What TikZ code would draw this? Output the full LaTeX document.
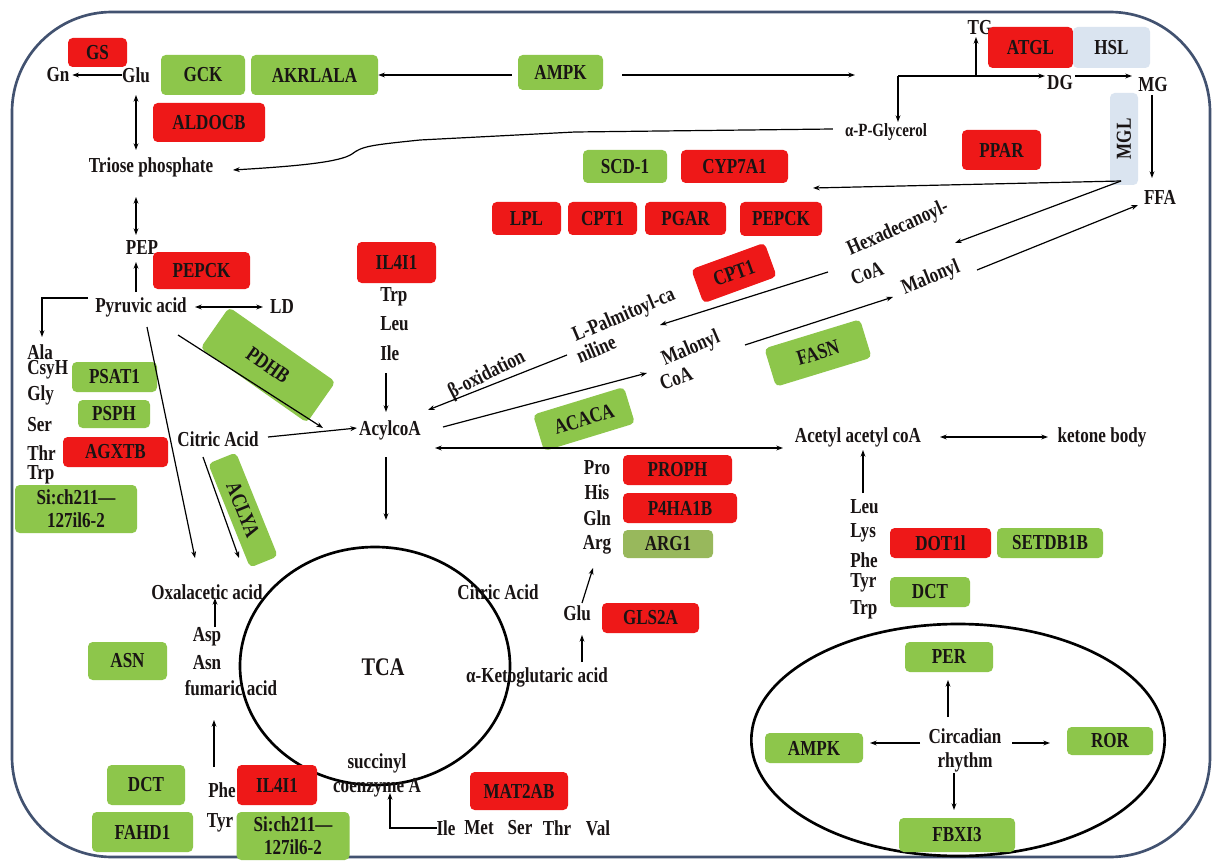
\documentclass[tikz,border=0pt]{standalone}
\usepackage{fontspec}
\setmainfont{Liberation Serif}[FakeStretch=0.8]
\usetikzlibrary{arrows.meta}
\definecolor{rd}{RGB}{238,24,24}
\definecolor{gr}{RGB}{141,198,75}
\definecolor{ol}{RGB}{152,184,92}
\definecolor{lb}{RGB}{218,228,240}
\definecolor{fr}{RGB}{66,82,112}
\definecolor{txt}{RGB}{25,20,20}
\begin{document}
\begin{tikzpicture}[x=0.75pt,y=-0.75pt,
  every node/.style={font=\fontsize{16}{18}\selectfont\bfseries, inner sep=0pt, text=txt, align=center},
  box/.style={rounded corners=3.5pt},
  rbox/.style={box, fill=rd},
  gbox/.style={box, fill=gr},
  obox/.style={box, fill=ol},
  lbox/.style={box, fill=lb},
  sz/.style 2 args={minimum width=#1*0.75pt, minimum height=#2*0.75pt},
  conn/.style={line width=0.9pt, -{Stealth[length=5pt,width=3.6pt]}},
  dconn/.style={line width=0.9pt, {Stealth[length=5pt,width=3.6pt]}-{Stealth[length=5pt,width=3.6pt]}},
  plain/.style={line width=0.9pt}
]
\fill[white] (0,0) rectangle (1214,863);
\useasboundingbox (0,0) rectangle (1214,863);
\draw[fr, line width=2pt, rounded corners=75pt] (12,12) rectangle (1210,857);

% big ellipses
\draw[line width=2pt] (375,666) ellipse [x radius=101.25pt, y radius=89.25pt];
\draw[line width=2pt] (958,740) ellipse [x radius=155pt, y radius=87pt];

% ---------- top left ----------
\node[rbox, sz={59}{29}] (gs) at (97.5,52.5) {GS};
\node (gn) at (58,75) {Gn};
\node (glu) at (136,75) {Glu};
\node[gbox, sz={84}{40}] (gck) at (203,75) {GCK};
\node[gbox, sz={127}{40}] (akr) at (314.5,75) {AKRLALA};
\node[gbox, sz={85}{35}] (ampk) at (560.5,72.5) {AMPK};
\node[rbox, sz={112}{39}] (aldocb) at (209,122.5) {ALDOCB};
\node (triose) at (151,167) {Triose phosphate};
\node (pep) at (142,248) {PEP};
\node[rbox, sz={97}{37}] (pepck1) at (201.5,270.5) {PEPCK};
\node (pyr) at (141,307) {Pyruvic acid};
\node (ld) at (282,307) {LD};

% amino acids left
\node[anchor=west] (ala) at (27,352) {Ala};
\node[anchor=west] (csyh) at (27,370) {CsyH};
\node[anchor=west] (gly) at (27,395) {Gly};
\node[anchor=west] (ser) at (27,425) {Ser};
\node[anchor=west] (thr) at (27,453) {Thr};
\node[anchor=west] (trpl) at (27,475) {Trp};
\node[gbox, sz={85}{30}] (psat) at (114.5,377) {PSAT1};
\node[gbox, sz={72}{28}] (psph) at (114,414) {PSPH};
\node[rbox, sz={105}{30}] (agxtb) at (115.5,452) {AGXTB};
\node[gbox, sz={122}{48}, font=\fontsize{16}{17}\selectfont\bfseries] (si1) at (76,509) {Si:ch211—\\127il6-2};

\node[gbox, sz={130}{50}, rotate=-35] (pdhb) at (268,365) {PDHB};
\node (cit1) at (218,439) {Citric Acid};
\node[gbox, sz={112}{30}, rotate=-68] (aclya) at (243,510) {ACLYA};

% IL4I1 top
\node[rbox, sz={79}{41}] (il1) at (396.5,262.5) {IL4I1};
\node[anchor=west] (trp1) at (380,297) {Trp};
\node[anchor=west] (leu1) at (380,324) {Leu};
\node[anchor=west] (ile1) at (380,353) {Ile};
\node (acyl) at (390,430) {AcylcoA};

% middle top boxes
\node[gbox, sz={84}{33}] (scd) at (625,166.5) {SCD-1};
\node[rbox, sz={107}{33}] (cyp) at (734.5,166.5) {CYP7A1};
\node[rbox, sz={69}{33}] (lpl) at (526.5,218.5) {LPL};
\node[rbox, sz={69}{33}] (cpt1a) at (602.5,218.5) {CPT1};
\node[rbox, sz={81}{33}] (pgar) at (685.5,218.5) {PGAR};
\node[rbox, sz={82}{34}] (pepck2) at (781,219) {PEPCK};
\node[rbox, sz={78}{36}, rotate=20] (cpt1b) at (734,273) {CPT1};

% rotated labels
\node[rotate=27] (boxid) at (487,375) {β-oxidation};
\node[rotate=23] (palm) at (624,316) {L-Palmitoyl-ca};
\node[rotate=23] (palm2) at (596,349) {niline};
\node[rotate=23] (malc) at (691,349) {Malonyl};
\node[rotate=20] (malc2) at (676,378) {CoA};
\node[gbox, sz={95}{38}, rotate=17] (acaca) at (584,419) {ACACA};
\node[gbox, sz={100}{40}, rotate=17] (fasn) at (818,353) {FASN};
\node[rotate=24] (hexa) at (898,229) {Hexadecanoyl-};
\node[rotate=20] (hexa2) at (867,273) {CoA};
\node[rotate=22] (malr) at (931,278) {Malonyl};

% top right
\node (tg) at (980,28) {TG};
\node[rbox, sz={85}{41}] (atgl) at (1030.5,47.5) {ATGL};
\node[lbox, sz={77}{41}] (hsl) at (1111.5,47.5) {HSL};
\node (dg) at (1060,83) {DG};
\node (mg) at (1153,85) {MG};
\node[lbox, sz={28}{92}] (mglbox) at (1124,139) {};
\node[rotate=90] (mgl) at (1124,139) {MGL};
\node (ffa) at (1160,197) {FFA};
\node[font=\fontsize{14}{16}\selectfont\bfseries] (glyc) at (886,132) {α-P-Glycerol};
\node[rbox, sz={79}{40}] (ppar) at (1001.5,150) {PPAR};

% acetyl row
\node (acet) at (858,437) {Acetyl acetyl coA};
\node (ket) at (1102,437) {ketone body};
\node[anchor=west] (leu2) at (850,507) {Leu};
\node[anchor=west] (lys2) at (850,533) {Lys};
\node[anchor=west] (phe2) at (850,560) {Phe};
\node[anchor=west] (tyr2) at (850,583) {Tyr};
\node[anchor=west] (trp2) at (850,610) {Trp};
\node[rbox, sz={101}{30}] (dot) at (940.5,543) {DOT1l};
\node[gbox, sz={106}{30}] (setdb) at (1050,543) {SETDB1B};
\node[gbox, sz={80}{30}] (dct2) at (930,592) {DCT};

% Pro His ...
\node (pro) at (597,468) {Pro};
\node (his) at (597,492) {His};
\node (gln) at (597,518) {Gln};
\node (arg) at (597,545) {Arg};
\node[rbox, sz={109}{30}] (proph) at (677.5,470) {PROPH};
\node[rbox, sz={114}{30}] (p4ha) at (680,508) {P4HA1B};
\node[obox, sz={90}{28}] (arg1) at (668,544) {ARG1};

% TCA area
\node (cit2) at (498,592) {Citric Acid};
\node (glu2) at (577,613) {Glu};
\node[rbox, sz={97}{30}] (gls) at (650.5,618) {GLS2A};
\node (akg) at (537,677) {α-Ketoglutaric acid};
\node[font=\fontsize{19}{20}\selectfont\bfseries] (tca) at (383,667) {TCA};
\node (succ) at (377,775) {succinyl\\coenzyme A};
\node[rbox, sz={98}{38}] (mat) at (519,791) {MAT2AB};
\node (aile) at (446,828) {Ile};
\node (amet) at (479,828) {Met};
\node (aser) at (520,828) {Ser};
\node (athr) at (557,828) {Thr};
\node (aval) at (598,828) {Val};

% bottom left
\node (oxa) at (207,592) {Oxalacetic acid};
\node (asp) at (207,637) {Asp};
\node (asn) at (207,663) {Asn};
\node (fum) at (231,688) {fumaric acid};
\node[gbox, sz={79}{38}] (asnb) at (127.5,661) {ASN};
\node[gbox, sz={78}{40}] (dct1) at (146,785) {DCT};
\node[gbox, sz={101}{40}] (fahd) at (142.5,832) {FAHD1};
\node[rbox, sz={80}{40}] (il2) at (277,785) {IL4I1};
\node[gbox, sz={113}{48}, font=\fontsize{16}{17}\selectfont\bfseries] (si2) at (293,836) {Si:ch211—\\127il6-2};
\node (phe1) at (222,790) {Phe};
\node (tyr1) at (220,823) {Tyr};

% circadian
\node (circ) at (965,750) {Circadian\\rhythm};
\node[gbox, sz={88}{30}] (per) at (949,657) {PER};
\node[gbox, sz={98}{30}] (ampk2) at (814,748) {AMPK};
\node[gbox, sz={86}{28}] (ror) at (1110,741) {ROR};
\node[gbox, sz={116}{34}] (fbx) at (957,835) {FBXI3};

% ---------- coordinates for free ends ----------
\coordinate (ampkR) at (855,75);
\coordinate (j1) at (898,76);
\coordinate (j2) at (976,76);
\coordinate (mglO) at (1121,181);
\coordinate (mglL) at (813,188);
\coordinate (hexIn) at (955,243);
\coordinate (malOut) at (977,270);
\coordinate (ffaIn) at (1138,205);
\coordinate (hexOut) at (828,272);
\coordinate (palIn) at (660,325);
\coordinate (palOut) at (567,355);
\coordinate (acylIn) at (428,410);
\coordinate (acylOut) at (443,427);
\coordinate (malcIn) at (647,373);
\coordinate (malcOut) at (745,345);
\coordinate (malrIn) at (893,297);
\coordinate (pk) at (42,298);
\coordinate (sk) at (390,828);

% ---------- connectors ----------
\draw[conn, shorten >=2pt] (glu.west) -- (gn.east);
\draw[dconn] (136,95) -- (136,150);
\draw[dconn] (136,197) -- (136,235);
\draw[conn] (136,292) -- (136,262);
\draw[conn] (ampk.west |- akr.east) ++(-6,0) -- (akr.east);
\draw[conn] (622,75) -- (ampkR);
\draw[conn] (j1) -- (1045,76);
\draw[conn] (j2) -- (976,37);
\draw[conn] (j1) -- (898,122);
\draw[conn] (1075,76) -- (1132,76);
\draw[conn] (1152,95) -- (1152,178);
\draw[conn] (mglO) -- (mglL);
\draw[conn] (mglO) -- (hexIn);
\draw[conn] (malOut) -- (ffaIn);
\draw[conn] (hexOut) -- (palIn);
\draw[conn] (palOut) -- (acylIn);
\draw[conn] (acylOut) -- (malcIn);
\draw[conn] (malcOut) -- (malrIn);
\draw[dconn] (435,448) -- (783,448);
\draw[dconn] (940,437) -- (1048,437);
\draw[conn] (863,493) -- (863,450);
\draw[conn] (glyc.west) ++(-12,-3) -- (575,132) -- (420,140) .. controls (372,145) and (362,146) .. (352,154) .. controls (340,162) and (300,166) .. (233,170);
\draw[dconn] (195,307) -- (263,307);
\draw[conn] (88,298) -- (pk) -- (42,337);
\draw[conn] (178,335) -- (323,428);
\draw[conn] (268,437) -- (357,428);
\draw[conn] (147,327) -- (195,558);
\draw[conn] (203,457) -- (239,558);
\draw[conn] (386,373) -- (386,412);
\draw[conn] (386,457) -- (386,520);
\draw[conn] (215,627) -- (215,598);
\draw[conn] (214,767) -- (214,720);
\draw[conn] (437,828) -- (sk) -- (390,793);
\draw[conn] (582,662) -- (582,635);
\draw[conn] (582,603) -- (593,568);
\draw[conn] (948,717) -- (948,680);
\draw[conn] (920,743) -- (870,743);
\draw[conn] (1012,743) -- (1050,743);
\draw[conn] (954,773) -- (954,810);
\end{tikzpicture}
\end{document}
